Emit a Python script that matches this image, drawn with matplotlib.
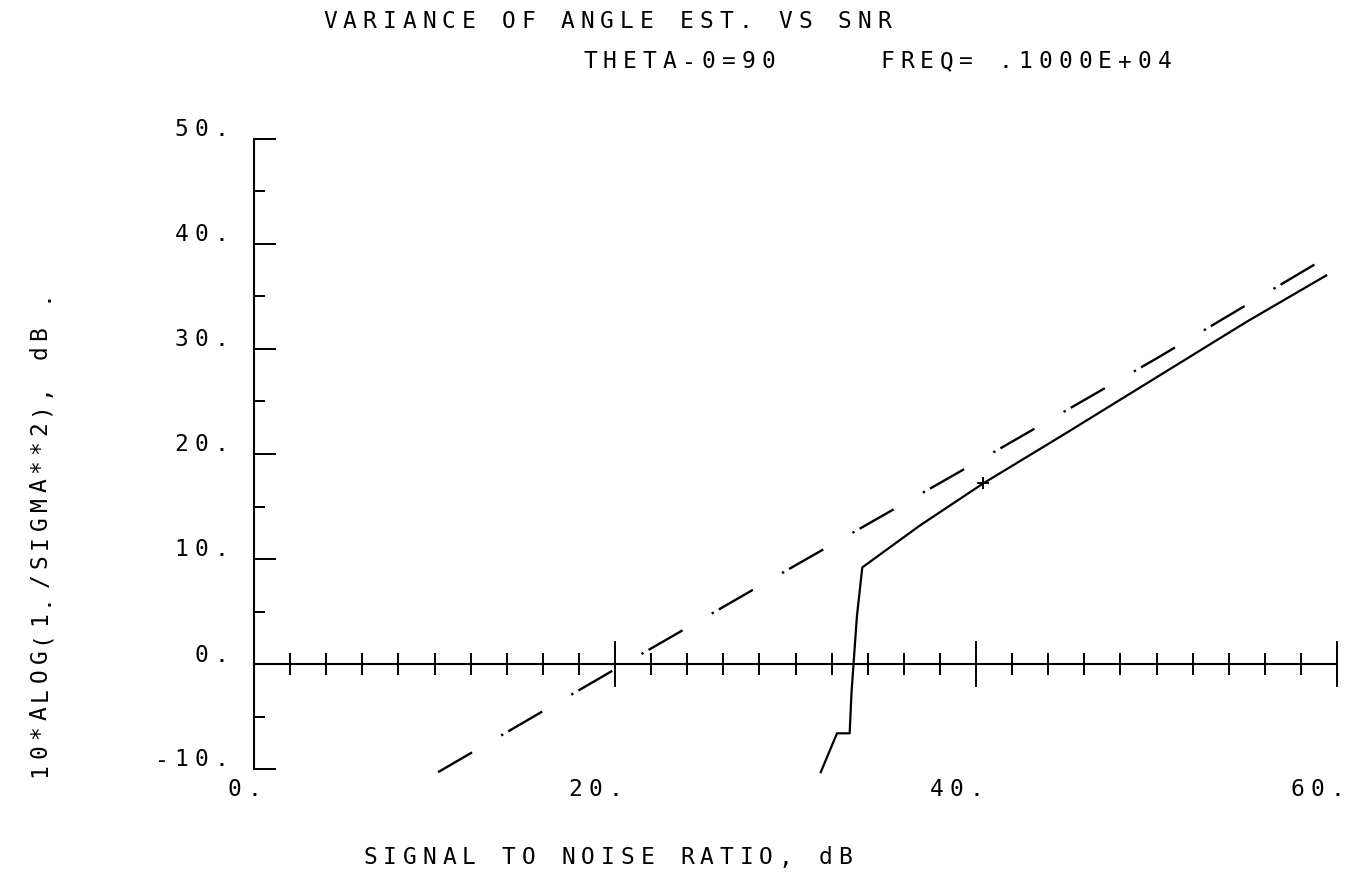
import matplotlib.pyplot as plt
import numpy as np

plt.rcParams['lines.scale_dashes'] = False

# SNR (dB) vs 10*log10(1/sigma^2) (dB)
snr_bound = [10.2, 20.0, 30.0, 40.0, 50.0, 59.1]
var_bound = [-10.3, -0.5, 9.4, 19.2, 29.1, 38.4]

snr_est = [31.4, 32.3, 33.0, 33.1, 33.4, 33.7, 36.9, 40.4, 45.0, 50.0, 55.0, 59.4]
var_est = [-10.3, -6.6, -6.6, -2.8, 4.5, 9.2, 13.2, 17.2, 22.0, 27.3, 32.6, 37.0]

x_ticks = [0, 20, 40, 60]
y_ticks = [-10, 0, 10, 20, 30, 40, 50]

title = 'VARIANCE OF ANGLE EST. VS SNR'
subtitle = 'THETA-0=90     FREQ= .1000E+04'
xlabel = 'SIGNAL TO NOISE RATIO, dB'
ylabel = '10*ALOG(1./SIGMA**2), dB .'

W, H = 1345, 882
PITCH = 19.8
FS = 16.5
FONT = 'DejaVu Sans Mono'

fig = plt.figure(figsize=(W / 100, H / 100), dpi=100)
ax = fig.add_axes([254 / W, 113 / H, 1083 / W, 630 / H])


def plot_text(s, xy, coords, dx=0, dy=0, vertical=False, pitch=PITCH):
    # plotter style: every character on a fixed pitch
    for i, ch in enumerate(s):
        if ch == ' ':
            continue
        if vertical:
            off, rot = (dx, dy + i * pitch), 90
        else:
            off, rot = (dx + i * pitch, dy), 0
        ax.annotate(ch, xy=xy, xycoords=coords, xytext=off,
                    textcoords='offset pixels', ha='center', va='center',
                    rotation=rot, fontsize=FS, family=FONT,
                    annotation_clip=False)


# curves
ax.plot(snr_bound, var_bound, color='black', lw=1.7,
        dashes=[28.3, 24.2, 1.7, 4.2], clip_on=False)
ax.plot(snr_est, var_est, color='black', lw=1.6, clip_on=False,
        marker='+', markevery=[7], ms=8, mew=1.4)

# axes
ax.set_xlim(0, 60)
ax.set_ylim(-10, 50)
ax.spines['top'].set_visible(False)
ax.spines['right'].set_visible(False)
ax.spines['bottom'].set_position(('data', 0))
ax.spines['bottom'].set_linewidth(1.5)
ax.spines['left'].set_linewidth(1.5)

ax.set_xticks(x_ticks)
ax.set_xticks(np.arange(0, 61, 2), minor=True)
ax.set_yticks(y_ticks)
ax.set_yticks(np.arange(-5, 50, 10), minor=True)
ax.tick_params(axis='x', which='major', direction='inout', length=33,
               width=1.4, labelbottom=False)
ax.tick_params(axis='x', which='minor', direction='inout', length=16,
               width=1.4)
ax.tick_params(axis='y', which='major', direction='in', length=16,
               width=1.4, labelleft=False)
ax.tick_params(axis='y', which='minor', direction='in', length=8,
               width=1.4)

# tick labels
for v in y_ticks:
    s = '%d.' % v
    plot_text(s, (0, v), 'data', dx=-33 - (len(s) - 1) * PITCH, dy=9)
for v in x_ticks:
    s = '%d.' % v
    plot_text(s, (v, -10), 'data', dx=-(len(s) - 1) * PITCH, dy=-21)

# titles and axis labels
plot_text(title, (330, H - 22), 'figure pixels')
plot_text(subtitle, (590, H - 62), 'figure pixels')
plot_text(xlabel, (370, H - 858), 'figure pixels')
plot_text(ylabel, (40, H - 770), 'figure pixels', vertical=True, pitch=19)

fig.savefig('out.png', dpi=100, facecolor='white')
